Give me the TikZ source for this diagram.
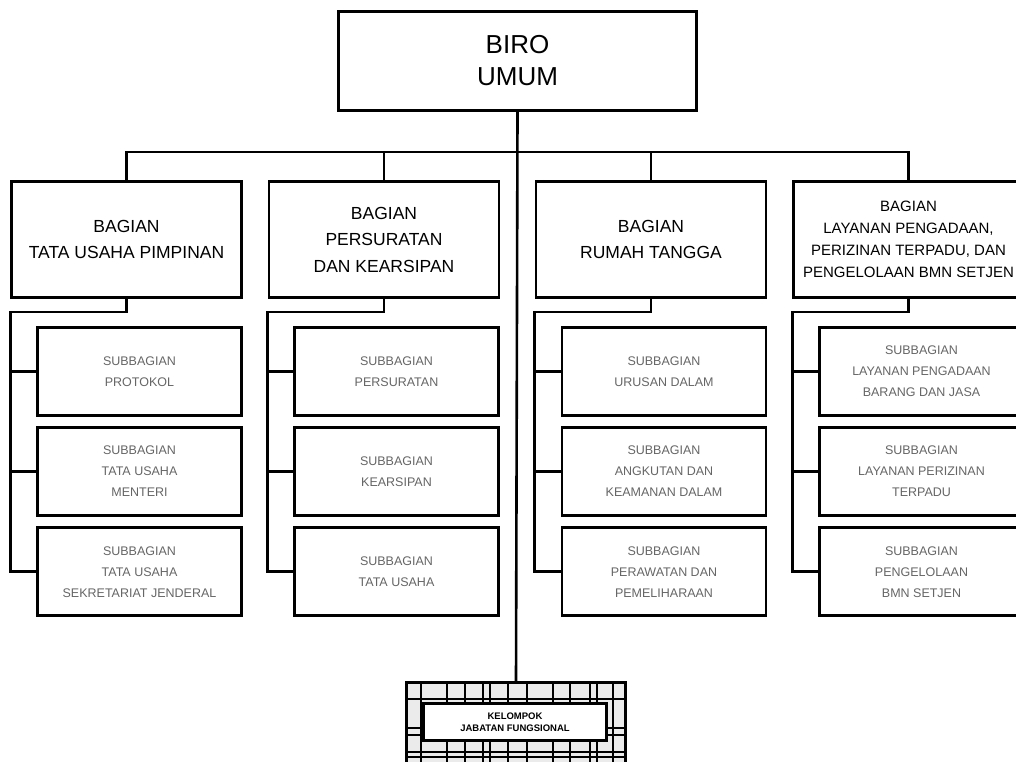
\documentclass[tikz,border=0pt]{standalone}
\usepackage{fontspec}
\setmainfont{Liberation Sans}
\usetikzlibrary{positioning}
\tikzstyle{biro} = [rectangle, text centered, align=center, draw=black, fill=white, line width=2.6pt, minimum width=358pt, minimum height=99pt, font=\fontsize{26}{32}\selectfont]
\tikzstyle{bagian} = [rectangle, text centered, align=center, draw=black, fill=white, line width=2.6pt, minimum width=230pt, minimum height=116pt, font=\fontsize{17.5}{26.5}\selectfont]
\tikzstyle{bagian_long} = [bagian, font=\fontsize{15}{22}\selectfont]
\tikzstyle{subbagian} = [rectangle, text centered, align=center, draw=black, fill=white, line width=2.6pt, minimum width=204pt, minimum height=88pt, text=black!60, font=\fontsize{12.5}{21}\selectfont]
\tikzstyle{kelompok_frame} = [rectangle, draw=black, fill=black!8, line width=2.6pt, minimum width=219pt, minimum height=84pt]
\tikzstyle{kelompok} = [rectangle, text centered, align=center, draw=black, fill=white, line width=2.6pt, minimum width=183pt, minimum height=37pt, font=\bfseries\fontsize{9.5}{12}\selectfont]
\tikzstyle{link} = [line width=2.6pt, black]
\tikzstyle{grid_line} = [line width=1.2pt, black]

\begin{document}
\begin{tikzpicture}[x=1pt, y=-1pt]

    \useasboundingbox (0,0) rectangle (1016,762);

    \node (biro) [biro] at (517.5,61) {BIRO\\UMUM};

    \node (bag1) [bagian] at (126.5,239.5) {BAGIAN\\TATA USAHA PIMPINAN};
    \node (bag2) [bagian] at (384,239.5) {BAGIAN\\PERSURATAN\\DAN KEARSIPAN};
    \node (bag3) [bagian] at (651,239.5) {BAGIAN\\RUMAH TANGGA};
    \node (bag4) [bagian_long] at (908.5,239.5) {BAGIAN\\LAYANAN PENGADAAN,\\PERIZINAN TERPADU, DAN\\PENGELOLAAN BMN SETJEN};

    \coordinate (bus) at (517,152);

    \draw [link] (bag1.north) |- (bag4.north |- bus) -- (bag4.north);
    \draw [link] (bag2.north) -- (bag2.north |- bus);
    \draw [link] (bag3.north) -- (bag3.north |- bus);

    % subbagian, column 1
    \node (sub11) [subbagian] at (139.5,371.5) {SUBBAGIAN\\PROTOKOL};
    \node (sub12) [subbagian, below=9.5pt of sub11] {SUBBAGIAN\\TATA USAHA\\MENTERI};
    \node (sub13) [subbagian, below=9.5pt of sub12] {SUBBAGIAN\\TATA USAHA\\SEKRETARIAT JENDERAL};

    % subbagian, column 2
    \node (sub21) [subbagian] at (396.5,371.5) {SUBBAGIAN\\PERSURATAN};
    \node (sub22) [subbagian, below=9.5pt of sub21] {SUBBAGIAN\\KEARSIPAN};
    \node (sub23) [subbagian, below=9.5pt of sub22] {SUBBAGIAN\\TATA USAHA};

    % subbagian, column 3
    \node (sub31) [subbagian] at (664,371.5) {SUBBAGIAN\\URUSAN DALAM};
    \node (sub32) [subbagian, below=9.5pt of sub31] {SUBBAGIAN\\ANGKUTAN DAN\\KEAMANAN DALAM};
    \node (sub33) [subbagian, below=9.5pt of sub32] {SUBBAGIAN\\PERAWATAN DAN\\PEMELIHARAAN};

    % subbagian, column 4
    \node (sub41) [subbagian] at (921.5,371.5) {SUBBAGIAN\\LAYANAN PENGADAAN\\BARANG DAN JASA};
    \node (sub42) [subbagian, below=9.5pt of sub41] {SUBBAGIAN\\LAYANAN PERIZINAN\\TERPADU};
    \node (sub43) [subbagian, below=9.5pt of sub42] {SUBBAGIAN\\PENGELOLAAN\\BMN SETJEN};

    \draw [link] (bag1.south) -- ++(0,13) -| (sub13.west -| bag1.west) -- (sub13.west);
    \draw [link] (sub11.west) -- (sub11.west -| bag1.west);
    \draw [link] (sub12.west) -- (sub12.west -| bag1.west);

    \draw [link] (bag2.south) -- ++(0,13) -| (sub23.west -| bag2.west) -- (sub23.west);
    \draw [link] (sub21.west) -- (sub21.west -| bag2.west);
    \draw [link] (sub22.west) -- (sub22.west -| bag2.west);

    \draw [link] (bag3.south) -- ++(0,13) -| (sub33.west -| bag3.west) -- (sub33.west);
    \draw [link] (sub31.west) -- (sub31.west -| bag3.west);
    \draw [link] (sub32.west) -- (sub32.west -| bag3.west);

    \draw [link] (bag4.south) -- ++(0,13) -| (sub43.west -| bag4.west) -- (sub43.west);
    \draw [link] (sub41.west) -- (sub41.west -| bag4.west);
    \draw [link] (sub42.west) -- (sub42.west -| bag4.west);

    % kelompok jabatan fungsional
    \node (frame) [kelompok_frame] at (516,724.5) {};

    \draw [grid_line] (421,682) -- (421,767)  (447,682) -- (447,767)  (465,682) -- (465,767)
                      (483,682) -- (483,767)  (490,682) -- (490,767)  (508,682) -- (508,767)
                      (527,682) -- (527,767)  (553,682) -- (553,767)  (570,682) -- (570,767)
                      (590,682) -- (590,767)  (597,682) -- (597,767)  (613,682) -- (613,767);
    \draw [grid_line] (406,699) -- (626,699)  (406,728) -- (626,728)  (406,735) -- (626,735)
                      (406,752) -- (626,752)  (406,757) -- (626,757);

    \node (kelompok) [kelompok] at (515,722) {KELOMPOK\\JABATAN FUNGSIONAL};

    \draw [link] (biro.south) -- (frame.north);

\end{tikzpicture}
\end{document}
